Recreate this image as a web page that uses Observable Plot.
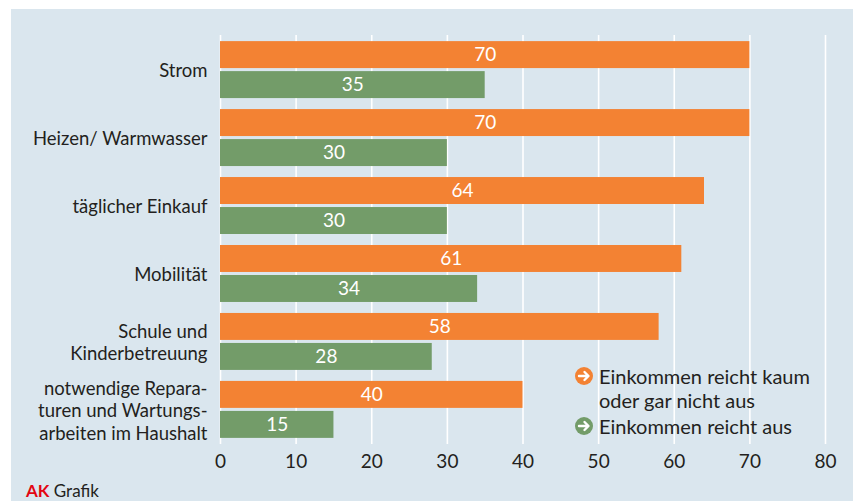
<!DOCTYPE html>
<html>
<head>
<meta charset="utf-8">
<script src="https://cdn.jsdelivr.net/npm/d3@7"></script>
<script src="https://cdn.jsdelivr.net/npm/@observablehq/plot@0.6"></script>
<style>
  html, body { margin: 0; padding: 0; background: #ffffff; }
  #panel { position: absolute; left: 11px; top: 9px; width: 842px; height: 492px; background: #dae6ee; overflow: hidden; font-family: Lato, sans-serif; color: #231f20; }
  #chart { position: absolute; left: 0; top: 0; }
  .legend { position: absolute; left: 564px; top: 355px; font-size: 20px; line-height: 24px; }
  .legend .item { position: relative; padding-left: 24px; margin-bottom: 2px; }
  .legend .dot { position: absolute; left: 0; top: 3px; width: 18px; height: 18px; border-radius: 50%; }
  .legend svg { position: absolute; left: 0; top: 0; }
  .caption { position: absolute; left: 15px; top: 471px; font-size: 17px; }
  .caption b { color: #e30613; }
</style>
</head>
<body>
<div id="panel">
  <div id="chart"></div>
  <div class="legend" id="legend"></div>
  <div class="caption"><b>AK</b> Grafik</div>
</div>
<script>
const categories = [
  "Strom",
  "Heizen/ Warmwasser",
  "täglicher Einkauf",
  "Mobilität",
  "Schule und\nKinderbetreuung",
  "notwendige Repara-\nturen und Wartungs-\narbeiten im Haushalt"
];
const reichtKaum = [70, 70, 64, 61, 58, 40];
const reichtAus = [35, 30, 30, 34, 28, 15];
const xTicks = [0, 10, 20, 30, 40, 50, 60, 70, 80];
const seriesNames = ["Einkommen reicht kaum\noder gar nicht aus", "Einkommen reicht aus"];
const seriesColors = ["#f38233", "#739c69"];

const data = categories.map((c, i) => ({category: c, kaum: reichtKaum[i], aus: reichtAus[i]}));

const chart = Plot.plot({
  width: 842,
  height: 470,
  marginLeft: 209,
  marginRight: 28,
  marginTop: 26,
  marginBottom: 35,
  style: {fontFamily: "Lato, sans-serif", fontSize: "19px", color: "#231f20", background: "transparent"},
  x: {domain: [0, 80]},
  y: {domain: categories, paddingInner: 11 / 68, paddingOuter: 0.09, round: false},
  marks: [
    Plot.ruleX(xTicks, {stroke: "white", strokeWidth: 1.6}),
    Plot.barX(data, {x: "kaum", y: "category", fill: seriesColors[0], insetBottom: 30}),
    Plot.barX(data, {x: "aus", y: "category", fill: seriesColors[1], insetTop: 30}),
    Plot.text(data, {x: d => d.kaum / 2, y: "category", text: d => String(d.kaum), dy: -15, fill: "white", fontSize: 19}),
    Plot.text(data, {x: d => d.aus / 2, y: "category", text: d => String(d.aus), dy: 15, fill: "white", fontSize: 19}),
    Plot.axisY({tickSize: 0, tickPadding: 13, fontSize: 18.5, lineHeight: 1.22, label: null, fill: "#231f20"}),
    Plot.axisX({ticks: xTicks, tickSize: 0, tickPadding: 10, fontSize: 19, label: null, fill: "#231f20"})
  ]
});
document.getElementById("chart").appendChild(chart);

const legend = document.getElementById("legend");
seriesNames.forEach((name, i) => {
  const item = document.createElement("div");
  item.className = "item";
  const dot = document.createElement("span");
  dot.className = "dot";
  dot.style.background = seriesColors[i];
  dot.innerHTML = '<svg width="18" height="18" viewBox="0 0 18 18"><path d="M4 9 H13 M9.5 5 L13.5 9 L9.5 13" stroke="white" stroke-width="2.4" fill="none" stroke-linecap="round" stroke-linejoin="round"/></svg>';
  item.appendChild(dot);
  name.split("\n").forEach((line, j) => {
    const l = document.createElement("div");
    l.textContent = line;
    item.appendChild(l);
  });
  legend.appendChild(item);
});
</script>
</body>
</html>
